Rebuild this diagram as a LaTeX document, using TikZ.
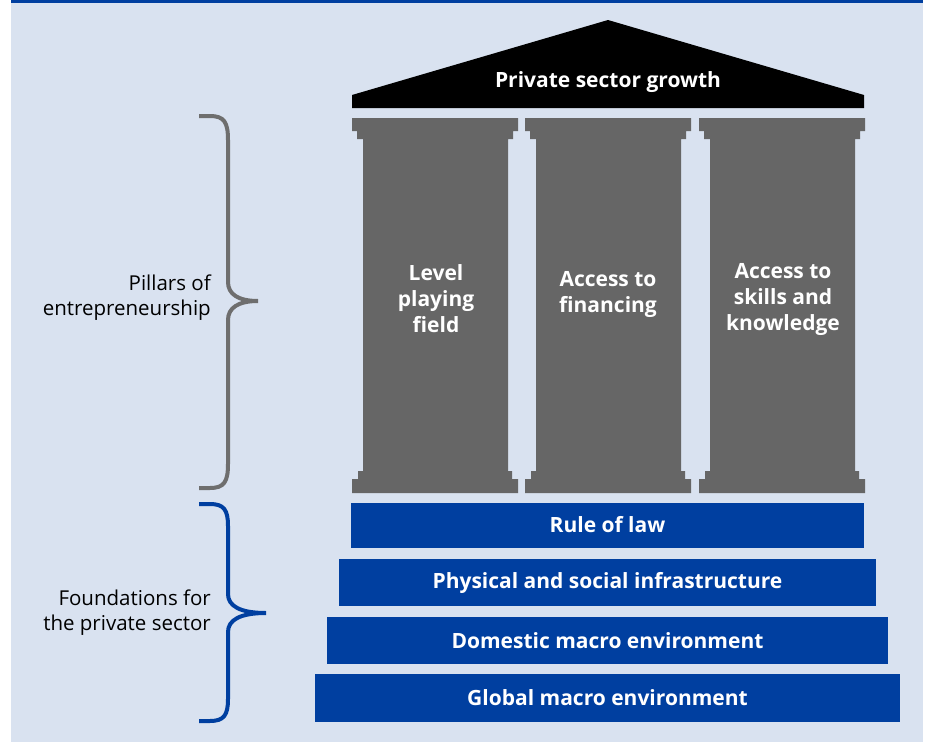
\documentclass[tikz,border=0pt]{standalone}
\usepackage{fontspec}
\setmainfont{Open Sans}
\definecolor{panelblue}{RGB}{217,226,240}
\definecolor{barblue}{RGB}{0,63,160}
\definecolor{pillargray}{RGB}{102,102,102}
\definecolor{bracegray}{RGB}{110,110,110}
\begin{document}
\begin{tikzpicture}[x=1pt, y=-1pt,
	bartext/.style={font=\bfseries\fontsize{21}{25}\selectfont, text=white},
	bar/.style={bartext, fill=barblue, inner sep=0pt},
	pillartext/.style={bartext, align=center, font=\bfseries\fontsize{21}{26}\selectfont},
	sidetext/.style={align=right, anchor=east, inner sep=0pt, font=\fontsize{20.5}{25}\selectfont},
	brace/.style={line width=4pt, line cap=butt, line join=miter, miter limit=20}]
		% Draw the panel
		\useasboundingbox (0,0) rectangle (927,742);
		\fill[white] (0,0) rectangle (927,742);
		\fill[panelblue] (11,0) rectangle (922.7,742);
		\fill[barblue] (11,0) rectangle (922.7,3);

		% Draw the roof
		\fill[black] (352,108) -- (352,95) -- (608,20) -- (864,95) -- (864,108) -- cycle;
		\node[bartext] (growth) at (608,82) {Private sector growth};

		% Draw the pillars
		\foreach \l in {352,525,699} {
			\fill[pillargray] (\l,118) -- ++(166,0) -- ++(0,13) -- ++(-5,0) -- ++(0,8)
				-- ++(-5,0) -- (\l+156,471) -- ++(4,0) -- ++(0,8) -- ++(6,0) -- ++(0,14)
				-- ++(-166,0) -- ++(0,-14) -- ++(6,0) -- ++(0,-8) -- ++(5,0) -- (\l+11,139)
				-- ++(-6,0) -- ++(0,-8) -- ++(-5,0) -- cycle;
		}
		\node[pillartext] (level) at (436,299) {Level\\playing\\field};
		\node[pillartext] (finance) at (608,294) {Access to\\financing};
		\node[pillartext] (skills) at (783,299) {Access to\\skills and\\knowledge};

		% Draw the foundations
		\node[bar, minimum width=513pt, minimum height=45pt] (law) at (607.5,525.5) {\raisebox{2pt}{Rule of law}};
		\node[bar, minimum width=537pt, minimum height=47pt] (infra) at (607.5,582.5) {Physical and social infrastructure};
		\node[bar, minimum width=561pt, minimum height=47pt] (domestic) at (607.5,640.5) {Domestic macro environment};
		\node[bar, minimum width=585pt, minimum height=48pt] (global) at (607.5,698) {Global macro environment};

		% Draw the braces
		\draw[brace, bracegray] (199,116) -- (210,116) .. controls (224,116) and (228,122) .. (228,140)
			-- (228,282) .. controls (228,294) and (238,301) .. (258,301)
			.. controls (238,301) and (228,308) .. (228,320) -- (228,464)
			.. controls (228,482) and (224,488) .. (210,488) -- (199,488);
		\draw[brace, barblue] (199,504) -- (210,504) .. controls (224,504) and (228,510) .. (228,526)
			-- (228,594) .. controls (228,606) and (240,613) .. (266,613)
			.. controls (240,613) and (228,620) .. (228,632) -- (228,699)
			.. controls (228,715) and (224,721) .. (210,721) -- (199,721);

		\node[sidetext] (pillars) at (211,298) {Pillars of\\entrepreneurship};
		\node[sidetext] (foundations) at (211,613) {Foundations for\\the private sector};

	\end{tikzpicture}
\end{document}
